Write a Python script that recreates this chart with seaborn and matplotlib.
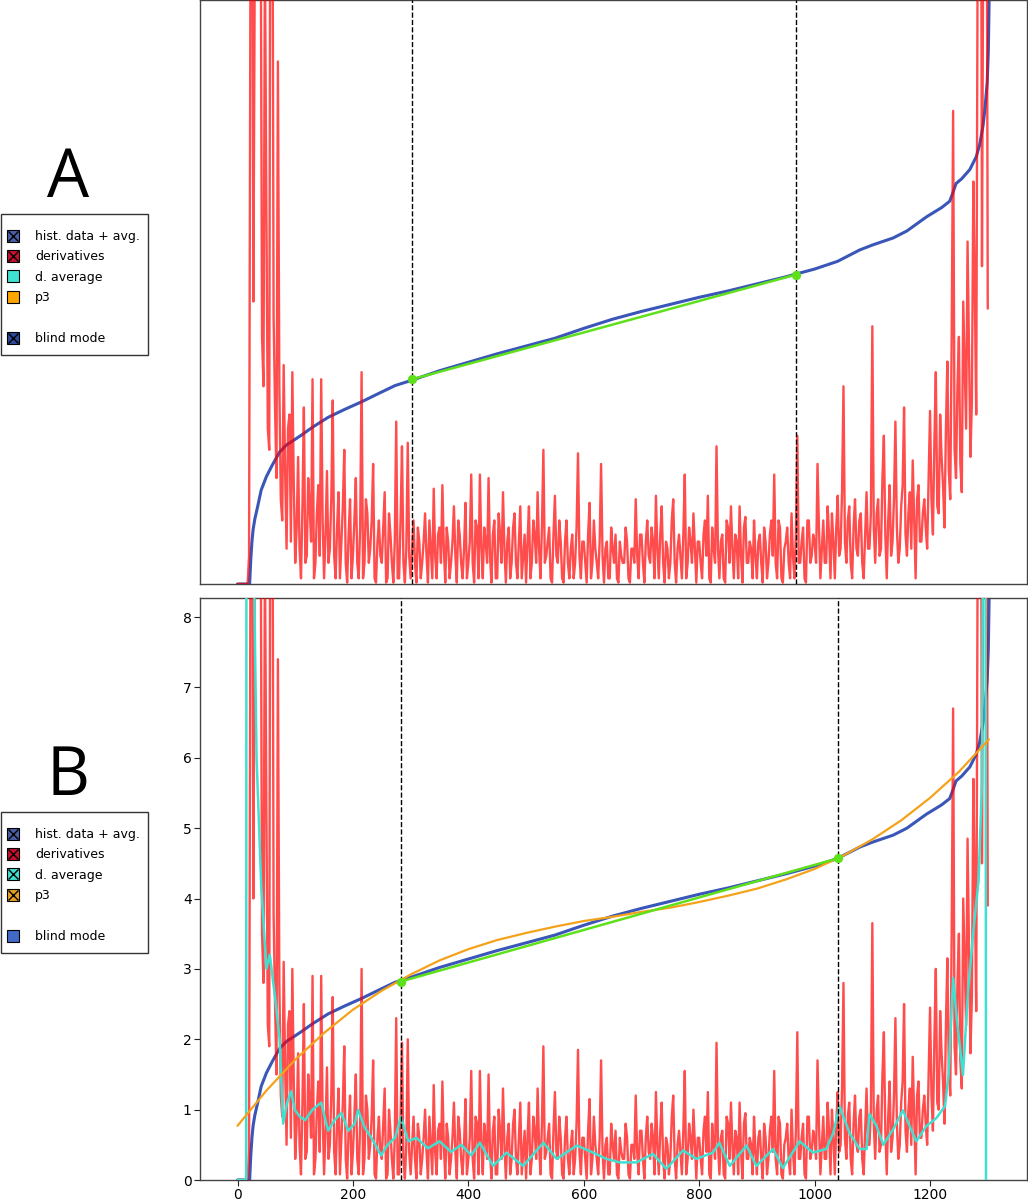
import numpy as np
import matplotlib
matplotlib.use("Agg")
import matplotlib.pyplot as plt
import seaborn as sns
from matplotlib.patches import Rectangle
from matplotlib.lines import Line2D
from matplotlib.legend_handler import HandlerTuple

# --- data ------------------------------------------------------------------
# sorted histogram data + running average (same curve in both panels)
blue_x = [0, 21, 23, 25, 27, 30, 35, 41, 50, 60, 73, 85, 100, 111, 130, 157, 185,
          215, 245, 273, 300, 350, 400, 450, 500, 550, 600, 650, 700, 750, 800,
          850, 900, 950, 1000, 1040, 1078, 1100, 1136, 1160, 1194, 1220, 1234,
          1240, 1245, 1255, 1269, 1280, 1286, 1292, 1295, 1299, 1301, 1303]
blue_y = [0, 0, 0.35, 0.6, 0.77, 0.92, 1.1, 1.33, 1.52, 1.68, 1.87, 1.97, 2.05,
          2.11, 2.22, 2.36, 2.47, 2.58, 2.70, 2.81, 2.88, 3.02, 3.14, 3.26, 3.37,
          3.48, 3.62, 3.75, 3.86, 3.96, 4.06, 4.15, 4.25, 4.35, 4.46, 4.57, 4.73,
          4.80, 4.90, 5.00, 5.20, 5.33, 5.42, 5.55, 5.67, 5.74, 5.87, 6.05, 6.22,
          6.5, 6.72, 7.1, 7.55, 8.6]

# derivatives at x = 0, 5, 10, ... 1300
deriv_on = [
    [0, 0, 0, 0, 0.4, 13, 9, 15, 10, 2.8, 5.3, 1.9, 12, 2.5, 7.4, 1.2, 3.1, 0.5, 2.4, 3.0],
    [0.3, 1.8, 0.08, 2.5, 0.4, 1.1, 2.9, 0.3, 1.4, 2.9, 0.08, 1.6, 0.5, 2.6, 0.08, 1.3, 0.6, 1.9, 0.02, 1.2],
    [0.4, 1.5, 0.08, 3.0, 0.3, 1.0, 0.5, 1.7, 0.02, 0.9, 0.3, 1.3, 0.08, 0.7, 0.02, 2.3, 0.08, 1.95, 0.02, 2.0],
    [0.08, 0.9, 0.02, 0.6, 0.3, 1.0, 0.02, 0.5, 1.35, 0.08, 0.8, 1.4, 0.02, 0.6, 0.3, 1.1, 0.02, 0.7, 0.08, 1.15],
    [0.3, 1.55, 0.02, 0.8, 1.55, 0.08, 0.6, 1.5, 0.02, 0.9, 0.08, 0.7, 1.3, 0.02, 0.8, 0.3, 1.0, 0.08, 1.1, 0.4],
    [0.02, 1.1, 0.3, 0.7, 1.3, 0.08, 1.9, 0.4, 0.8, 0.02, 1.25, 0.3, 0.6, 0.02, 0.9, 0.08, 0.7, 0.3, 1.85, 0.08],
    [0.6, 0.02, 1.15, 0.3, 0.5, 0.08, 1.7, 0.02, 0.6, 0.08, 0.5, 0.7, 0.02, 0.4, 0.3, 0.6, 0.02, 0.5, 1.2, 0.08],
    [0.7, 0.02, 0.9, 0.3, 0.6, 1.25, 0.08, 1.1, 0.02, 0.5, 0.3, 1.2, 0.02, 0.7, 0.08, 1.55, 0.3, 0.6, 1.0, 0.02],
    [0.6, 0.08, 0.9, 1.25, 0.02, 0.5, 1.95, 0.08, 0.7, 0.02, 0.8, 1.1, 0.08, 0.6, 1.1, 0.02, 0.95, 0.3, 0.5, 0.9],
    [0.08, 0.7, 0.02, 0.6, 0.3, 0.9, 1.55, 0.08, 0.8, 0.02, 0.6, 0.3, 1.0, 0.08, 2.1, 0.3, 0.8, 0.02, 0.9, 0.4],
    [0.6, 1.7, 0.08, 0.9, 0.3, 0.7, 1.0, 0.08, 1.25, 0.5, 2.8, 0.3, 1.1, 0.08, 1.2, 0.4, 1.0, 0.08, 1.3, 0.5],
    [3.65, 0.3, 1.2, 0.5, 2.1, 0.08, 1.4, 0.6, 2.3, 0.3, 1.1, 2.5, 0.4, 1.3, 1.75, 0.08, 1.4, 0.6, 1.2, 0.5],
    [2.45, 0.7, 3.0, 1.0, 1.8, 0.8, 3.15, 1.2, 6.7, 1.5, 3.5, 1.3, 3.1, 4.85, 1.8, 5.7, 2.4, 12, 4.5, 15, 3.9],
]
# derivatives at the half steps x = 2.5, 7.5, ... 1297.5
deriv_half = [
    [0, 0, 0, 0, 9, 4, 11, 12, 3.5, 9, 2.2, 14, 3.8, 1.5, 2.8, 0.9, 1.6, 2.2, 0.6, 1.4],
    [0.8, 0.5, 1.1, 0.3, 1.5, 0.6, 0.08, 1.0, 0.4, 0.9, 0.7, 0.3, 1.2, 0.4, 0.8, 0.08, 1.1, 0.3, 0.7, 0.08],
    [0.9, 0.3, 0.8, 0.08, 1.2, 0.3, 0.9, 0.08, 0.6, 0.4, 0.8, 0.02, 1.0, 0.3, 0.6, 0.08, 0.9, 0.3, 0.5, 0.4],
    [0.5, 0.3, 0.8, 0.08, 0.6, 0.4, 0.9, 0.08, 0.4, 0.7, 0.3, 0.5, 0.8, 0.08, 0.6, 0.4, 0.9, 0.3, 0.5, 0.08],
    [0.6, 0.3, 0.9, 0.08, 0.5, 0.8, 0.3, 0.4, 0.7, 0.08, 1.0, 0.3, 0.5, 0.6, 0.08, 0.8, 0.3, 0.6, 0.08, 0.7],
    [0.6, 0.08, 0.9, 0.3, 0.5, 0.8, 0.3, 0.6, 0.08, 0.7, 0.4, 0.9, 0.08, 0.6, 0.3, 0.5, 0.08, 0.8, 0.4, 0.6],
    [0.3, 0.7, 0.08, 0.9, 0.3, 0.6, 0.4, 0.5, 0.08, 0.8, 0.3, 0.08, 0.6, 0.3, 0.8, 0.08, 0.5, 0.3, 0.4, 0.7],
    [0.3, 0.6, 0.4, 0.8, 0.08, 0.5, 0.7, 0.3, 0.6, 0.08, 0.9, 0.3, 0.5, 0.4, 0.7, 0.08, 0.8, 0.3, 0.5, 0.6],
    [0.3, 0.7, 0.4, 0.08, 0.8, 0.3, 0.5, 0.6, 0.08, 0.9, 0.3, 0.5, 0.7, 0.08, 0.4, 0.8, 0.3, 0.6, 0.08, 0.4],
    [0.6, 0.3, 0.8, 0.08, 0.7, 0.4, 0.3, 0.9, 0.08, 0.5, 0.8, 0.08, 0.4, 0.7, 0.3, 0.6, 0.08, 0.9, 0.3, 0.7],
    [0.3, 0.8, 0.5, 0.3, 1.1, 0.08, 0.6, 0.8, 0.4, 1.3, 0.6, 0.9, 0.3, 0.8, 0.5, 0.9, 0.3, 0.7, 0.5, 1.0],
    [0.8, 1.0, 0.4, 1.5, 0.7, 0.9, 0.4, 1.2, 0.8, 0.5, 1.4, 0.7, 1.0, 0.5, 0.9, 1.2, 0.6, 1.0, 0.8, 1.5],
    [1.2, 2.0, 1.1, 2.4, 1.4, 2.2, 1.6, 3.5, 1.9, 2.8, 1.7, 4.0, 2.2, 3.3, 2.6, 4.2, 9, 14, 10, 13],
]
on_vals = [v for row in deriv_on for v in row]
half_vals = [v for row in deriv_half for v in row]
deriv_y = []
for i, v in enumerate(on_vals):
    deriv_y.append(v)
    if i < len(half_vals):
        deriv_y.append(half_vals[i])
deriv_x = np.arange(len(deriv_y)) * 2.5

# smoothed derivatives (panel B only)
davg_x = [0, 15, 16, 28, 33, 41, 50, 56, 65, 73, 79, 86, 93, 99, 108, 117, 130,
          145, 157, 168, 180, 192, 203, 209, 220, 232, 249, 260, 273, 283, 296,
          310, 330, 350, 370, 388, 405, 420, 443, 466, 495, 530, 553, 588, 616,
          639, 662, 691, 720, 743, 772, 795, 824, 835, 853, 882, 899, 928, 945,
          974, 997, 1020, 1032, 1043, 1061, 1078, 1090, 1095, 1107, 1119, 1136,
          1153, 1176, 1194, 1211, 1226, 1232, 1240, 1246, 1257, 1266, 1275, 1284,
          1290, 1293, 1296, 1297]
davg_y = [0, 0, 20, 9, 6.0, 4.2, 3.0, 3.2, 2.6, 2.0, 0.8, 1.1, 1.26, 1.0, 0.9,
          0.85, 1.0, 1.1, 0.7, 0.85, 0.95, 0.7, 0.8, 1.0, 0.75, 0.6, 0.35, 0.5,
          0.6, 0.9, 0.55, 0.6, 0.45, 0.55, 0.4, 0.5, 0.35, 0.53, 0.2, 0.39, 0.2,
          0.53, 0.3, 0.49, 0.39, 0.3, 0.25, 0.25, 0.37, 0.16, 0.42, 0.3, 0.39,
          0.53, 0.2, 0.49, 0.2, 0.44, 0.17, 0.55, 0.39, 0.44, 0.66, 1.05, 0.66,
          0.44, 0.44, 0.94, 0.77, 0.5, 0.72, 0.99, 0.55, 0.77, 0.88, 1.05, 1.49,
          2.87, 2.32, 1.49, 2.7, 3.53, 4.25, 5.63, 12, 12, 0]

# p3 polynomial fit (panel B only)
p3_x = [0, 50, 100, 150, 200, 250, 300, 350, 400, 450, 500, 550, 600, 650, 700,
        750, 800, 850, 900, 950, 1000, 1050, 1100, 1150, 1200, 1250, 1302]
p3_y = [0.77, 1.27, 1.71, 2.09, 2.42, 2.69, 2.92, 3.12, 3.28, 3.41, 3.51, 3.60,
        3.68, 3.74, 3.81, 3.87, 3.95, 4.04, 4.14, 4.27, 4.42, 4.61, 4.84, 5.11,
        5.43, 5.80, 6.26]

# linear section between the two break points
lin_a_x = [303, 967]
lin_a_y = [2.90, 4.38]
lin_b_x = [283, 1040]
lin_b_y = [2.82, 4.57]

x_ticks = [0, 200, 400, 600, 800, 1000, 1200]
y_ticks = [0, 1, 2, 3, 4, 5, 6, 7, 8]

BLUE = "#3a56b8"
RED = "red"
TURQ = "#40e0d0"
ORANGE = "#f5a21b"
GREEN = "#5ee01a"

sns.set_style("ticks")
plt.rcParams["font.family"] = ["DejaVu Sans"]
plt.rcParams["text.color"] = "black"
plt.rcParams["axes.edgecolor"] = "#444444"
plt.rcParams["axes.linewidth"] = 1.0

fig = plt.figure(figsize=(10.28, 12), dpi=100)
ax_a = fig.add_axes([200 / 1028, 1 - 584 / 1200, 827 / 1028, 584 / 1200])
ax_b = fig.add_axes([200 / 1028, 20 / 1200, 827 / 1028, 582 / 1200])


def draw_common(ax, lin_x, lin_y):
    sns.lineplot(x=blue_x, y=blue_y, ax=ax, color=BLUE, lw=2.2,
                 estimator=None, sort=False, zorder=2)
    sns.lineplot(x=deriv_x, y=deriv_y, ax=ax, color=RED, lw=1.7, alpha=0.7,
                 estimator=None, sort=False, zorder=3)
    for xv in lin_x:
        ax.axvline(xv, color="black", ls="--", lw=1.0, zorder=6)
    sns.lineplot(x=lin_x, y=lin_y, ax=ax, color=GREEN, lw=1.8,
                 estimator=None, sort=False, zorder=5)
    ax.scatter(lin_x, lin_y, s=45, color=GREEN, zorder=7, linewidths=0)
    ax.set_xlim(-65, 1368)
    ax.set_ylim(0, 8.27)


draw_common(ax_a, lin_a_x, lin_a_y)
ax_a.set_xticks([])
ax_a.set_yticks([])

draw_common(ax_b, lin_b_x, lin_b_y)
sns.lineplot(x=davg_x, y=davg_y, ax=ax_b, color=TURQ, lw=1.8,
             estimator=None, sort=False, zorder=4)
sns.lineplot(x=p3_x, y=p3_y, ax=ax_b, color=ORANGE, lw=1.6,
             estimator=None, sort=False, zorder=4)
ax_b.set_xticks(x_ticks)
ax_b.set_yticks(y_ticks)
ax_b.tick_params(labelsize=10, colors="#222222", labelcolor="black",
                 length=4, pad=2)

for ax in (ax_a, ax_b):
    for s in ax.spines.values():
        s.set_visible(True)
        s.set_color("#444444")


def handle(color, cross):
    sq = Line2D([], [], marker="s", ls="none", markersize=8,
                markerfacecolor=color, markeredgecolor="black",
                markeredgewidth=0.8)
    if not cross:
        return sq
    return (sq, Line2D([], [], marker="x", ls="none", color="black",
                       markersize=6.5, markeredgewidth=1.0))


spacer = Line2D([], [], ls="none")
labels = ["hist. data + avg.", "derivatives", "d. average", "p3", "", "blind mode"]
handles_a = [handle("#4a5fa8", True), handle("#c8102e", True), handle(TURQ, False),
             handle("#ffa500", False), spacer, handle("#2f4a9c", True)]
handles_b = [handle("#4a5fa8", True), handle("#c8102e", True), handle(TURQ, True),
             handle("#e8a020", True), spacer, handle("#4169c8", False)]

for hs, top in ((handles_a, 214), (handles_b, 812)):
    fig.patches.append(Rectangle((0.5 / 1028, 1 - (top + 141) / 1200),
                                 147.5 / 1028, 141 / 1200,
                                 transform=fig.transFigure, fill=False,
                                 edgecolor="#333333", lw=1.0))
    fig.legend(hs, labels, loc="upper left",
               bbox_to_anchor=(0.0, 1 - (top + 11) / 1200),
               bbox_transform=fig.transFigure, fontsize=9, frameon=False,
               labelcolor="black",
               handlelength=1.3, handleheight=0.7, handletextpad=1.1,
               labelspacing=0.59, borderpad=0.4, borderaxespad=0,
               handler_map={tuple: HandlerTuple(ndivide=1, pad=0)})

fig.text(68 / 1028, 1 - 197 / 1200, "A", ha="center", va="baseline",
         fontsize=48, color="black", family=["Open Sans", "DejaVu Sans"])
fig.text(68 / 1028, 1 - 795 / 1200, "B", ha="center", va="baseline",
         fontsize=48, color="black", family=["Open Sans", "DejaVu Sans"])

fig.savefig("out.png", dpi=100)
